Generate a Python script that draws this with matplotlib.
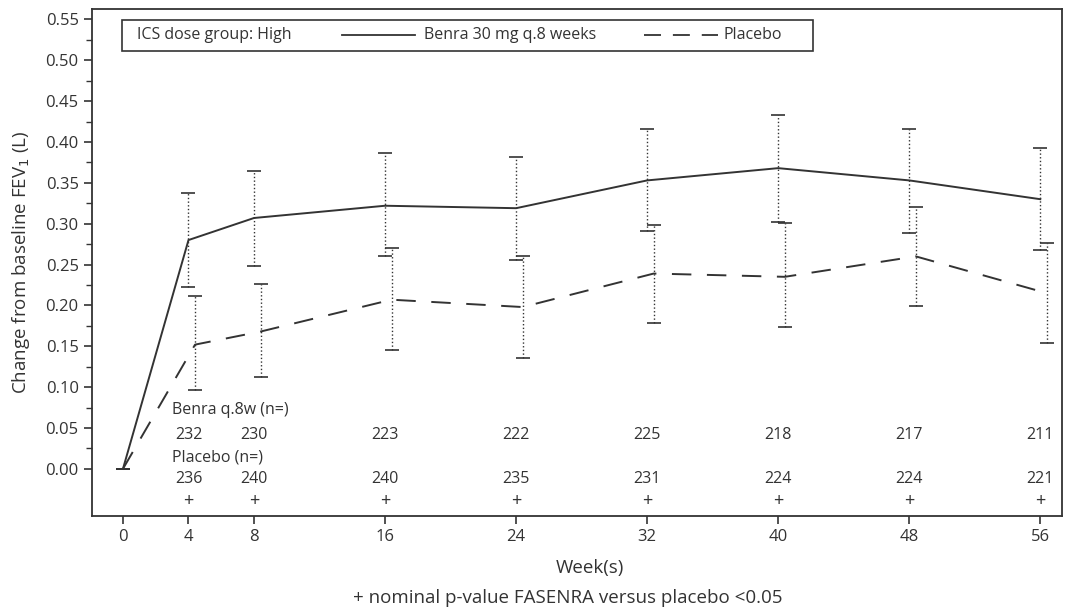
import numpy as np
import matplotlib.pyplot as plt
from matplotlib.ticker import FixedLocator
from matplotlib.patches import Rectangle
from matplotlib.lines import Line2D

plt.rcParams['font.family'] = ['Open Sans', 'DejaVu Sans']

# weeks and values
weeks = [0, 4, 8, 16, 24, 32, 40, 48, 56]
benra = [0.0, 0.280, 0.307, 0.322, 0.319, 0.353, 0.368, 0.353, 0.330]
benra_lo = [0.0, 0.222, 0.248, 0.261, 0.256, 0.291, 0.302, 0.289, 0.268]
benra_hi = [0.0, 0.337, 0.365, 0.386, 0.382, 0.416, 0.433, 0.416, 0.393]
placebo = [0.0, 0.152, 0.168, 0.207, 0.198, 0.239, 0.235, 0.260, 0.215]
placebo_lo = [0.0, 0.097, 0.112, 0.146, 0.136, 0.178, 0.173, 0.199, 0.154]
placebo_hi = [0.0, 0.211, 0.226, 0.270, 0.261, 0.299, 0.301, 0.321, 0.276]

n_weeks = [4, 8, 16, 24, 32, 40, 48, 56]
n_benra = [232, 230, 223, 222, 225, 218, 217, 211]
n_placebo = [236, 240, 240, 235, 231, 224, 224, 221]
sig_weeks = [4, 8, 16, 24, 32, 40, 48, 56]

col = '#333333'
shift = 0.4  # placebo offset so bars don't overlap
fs = 11.5

fig = plt.figure(figsize=(10.68, 6.16), dpi=100)
ax = fig.add_axes([0.086, 0.162, 0.908, 0.823])

wk = np.array(weeks, dtype=float)
b = np.array(benra)
p = np.array(placebo)
wp = wk + shift
wp[0] = 0

ax.plot(wk, b, color=col, lw=1.4, ls='-')
ax.plot(wp, p, color=col, lw=1.4, ls=(0, (10, 8)))

eb = ax.errorbar(wk, b, yerr=[b - np.array(benra_lo), np.array(benra_hi) - b],
                 fmt='none', ecolor=col, elinewidth=1.0, capsize=5, capthick=1.2)
eb[2][0].set_linestyle(':')
eb2 = ax.errorbar(wp, p, yerr=[p - np.array(placebo_lo), np.array(placebo_hi) - p],
                  fmt='none', ecolor=col, elinewidth=1.0, capsize=5, capthick=1.2)
eb2[2][0].set_linestyle(':')

# n= table inside the plot
ax.text(3.0, 0.072, 'Benra q.8w (n=)', fontsize=fs, color=col, va='center', ha='left')
for w, n in zip(n_weeks, n_benra):
    ax.text(w, 0.041, str(n), fontsize=fs, color=col, va='center', ha='center')
ax.text(3.0, 0.014, 'Placebo (n=)', fontsize=fs, color=col, va='center', ha='left')
for w, n in zip(n_weeks, n_placebo):
    ax.text(w, -0.012, str(n), fontsize=fs, color=col, va='center', ha='center')
for w in sig_weeks:
    ax.text(w, -0.039, '+', fontsize=13, color=col, va='center', ha='center')

ax.set_xlim(-1.9, 57.3)
ax.set_ylim(-0.058, 0.5625)
ax.set_xticks(weeks)
yt = np.arange(0, 0.551, 0.05)
ax.set_yticks(yt)
ax.set_yticklabels(['%.2f' % v for v in yt])
ax.yaxis.set_minor_locator(FixedLocator(yt[:-1] + 0.025))
ax.tick_params(axis='both', labelsize=12, colors=col, length=6, width=1.2)
ax.tick_params(axis='y', which='minor', length=4, width=1.0, colors=col)
for s in ax.spines.values():
    s.set_color(col)
    s.set_linewidth(1.3)

ax.set_xlabel('Week(s)', fontsize=13.5, color=col)
ax.xaxis.set_label_coords(0.514, -0.085)
ax.set_ylabel('Change from baseline FEV$_1$ (L)', fontsize=13.5, color=col, labelpad=10)

# legend row in a box
ly = 0.949
ax.add_patch(Rectangle((0.0315, 0.918), 0.7125, 0.061, transform=ax.transAxes,
                       fill=False, ec=col, lw=1.2))
ax.text(0.047, ly, 'ICS dose group: High', transform=ax.transAxes,
        fontsize=fs, color=col, va='center')
ax.add_line(Line2D([0.258, 0.333], [ly, ly], transform=ax.transAxes, color=col, lw=1.3))
ax.text(0.342, ly, 'Benra 30 mg q.8 weeks', transform=ax.transAxes,
        fontsize=fs, color=col, va='center')
ax.add_line(Line2D([0.569, 0.646], [ly, ly], transform=ax.transAxes, color=col, lw=1.3,
                   ls=(0, (9.4, 6.6))))
ax.text(0.651, ly, 'Placebo', transform=ax.transAxes,
        fontsize=fs, color=col, va='center')

fig.text(0.532, 0.03, '+ nominal p-value FASENRA versus placebo <0.05',
         fontsize=13.5, color=col, ha='center', va='center')

fig.savefig('out.png', dpi=100)
